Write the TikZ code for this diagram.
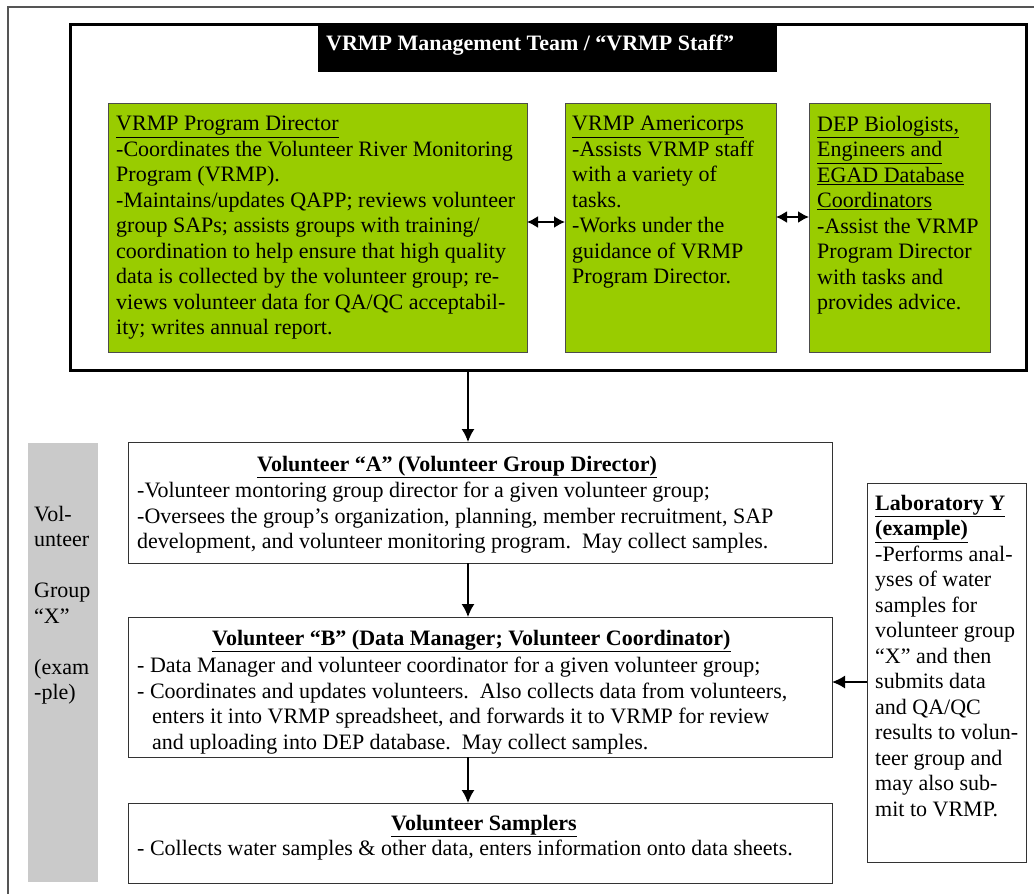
\documentclass[tikz,border=0pt]{standalone}
\usepackage{fontspec}
\setmainfont{Liberation Serif}
\usetikzlibrary{arrows.meta,calc}
\definecolor{vgreen}{HTML}{99CC00}
\definecolor{vgray}{HTML}{CACACA}
\definecolor{frameg}{HTML}{555555}
\begin{document}
\begin{tikzpicture}[x=1pt,y=1pt,
  boxbase/.style={anchor=north west, inner sep=0pt, outer sep=0pt},
  greenbox/.style={boxbase, draw=black!70, line width=0.9pt, fill=vgreen},
  whitebox/.style={boxbase, draw=black!80, line width=0.9pt, fill=white},
  graybox/.style={boxbase, fill=vgray},
  txt/.style={inner sep=0pt, align=left, anchor=north west, font=\fontsize{22}{25.5}\selectfont},
  ttl/.style={inner sep=0pt, anchor=base west, font=\fontsize{22}{25.5}\selectfont\bfseries},
  arr/.style={-{Latex[length=13pt,width=13pt]}, line width=1.5pt},
  darr/.style={{Latex[length=11pt,width=12pt]}-{Latex[length=11pt,width=12pt]}, line width=1.8pt}]
\useasboundingbox (0,0) rectangle (1034,-894);
% outer frame
\draw[frameg, line width=1.4pt] (8,-894) -- (8,-7) -- (1034,-7);
% management team
\node[boxbase, draw=black, line width=3pt, minimum width=956pt, minimum height=346pt] (mgmt) at (70,-24) {};
\node[boxbase, fill=black, minimum width=459pt, minimum height=48pt] (mtitle) at (318,-24) {};
\node[ttl, text=white] (mtitletxt) at (326,-50) {VRMP Management Team / “VRMP Staff”};
% green boxes
\node[greenbox, minimum width=419pt, minimum height=249pt] (pd) at (108,-103) {};
\node[greenbox, minimum width=211pt, minimum height=249pt] (am) at (565,-103) {};
\node[greenbox, minimum width=181pt, minimum height=249pt] (dep) at (809,-103) {};
\node[txt] (pdtxt) at (116,-116) {\underline{VRMP Program Director}\\
-Coordinates the Volunteer River Monitoring\\
Program (VRMP).\\
-Maintains/updates QAPP; reviews volunteer\\
group SAPs; assists groups with training/\\
coordination to help ensure that high quality\\
data is collected by the volunteer group; re-\\
views volunteer data for QA/QC acceptabil-\\
ity; writes annual report.};
\node[txt] (amtxt) at (572,-116) {\underline{VRMP Americorps}\\
-Assists VRMP staff\\
with a variety of\\
tasks.\\
-Works under the\\
guidance of VRMP\\
Program Director.};
\node[txt] (deptxt) at (817,-116) {\underline{DEP Biologists,}\\
\underline{Engineers and}\\
\underline{EGAD Database}\\
\underline{Coordinators}\\
-Assist the VRMP\\
Program Director\\
with tasks and\\
provides advice.};
\coordinate (da1) at (0,-222);
\coordinate (da2) at (0,-217);
\draw[darr] (pd.east |- da1) -- (am.west |- da1);
\draw[darr] (am.east |- da2) -- (dep.west |- da2);
% volunteer group side bar
\node[graybox, minimum width=70pt, minimum height=439pt] (grp) at (28,-443) {};
\node[txt] (grptxt) at (34,-506) {Vol-\\unteer\\[25.5pt]Group\\“X”\\[25.5pt](exam\\-ple)};
% volunteer boxes
\node[whitebox, minimum width=704pt, minimum height=121pt] (volA) at (128,-442) {};
\node[whitebox, minimum width=704pt, minimum height=140pt] (volB) at (128,-617) {};
\node[whitebox, minimum width=704pt, minimum height=80pt] (samp) at (128,-803) {};
\node[ttl] (volAttl) at (257,-471) {\underline{Volunteer “A” (Volunteer Group Director)}};
\node[txt] (volAtxt) at (137,-482) {-Volunteer montoring group director for a given volunteer group;\\
-Oversees the group’s organization, planning, member recruitment, SAP\\
development, and volunteer monitoring program.\ \ May collect samples.};
\node[ttl] (volBttl) at (212,-645) {\underline{Volunteer “B” (Data Manager; Volunteer Coordinator)}};
\node[txt] (volBtxt) at (137,-657) {- Data Manager and volunteer coordinator for a given volunteer group;\\
- Coordinates and updates volunteers.\ \ Also collects data from volunteers,\\
\hspace*{15pt}enters it into VRMP spreadsheet, and forwards it to VRMP for review\\
\hspace*{15pt}and uploading into DEP database.\ \ May collect samples.};
\node[ttl] (sampttl) at (391,-830) {\underline{Volunteer Samplers}};
\node[txt, anchor=base west] (samptxt) at (137,-855) {- Collects water samples \& other data, enters information onto data sheets.};
% laboratory
\node[whitebox, minimum width=159pt, minimum height=379pt] (lab) at (867,-483) {};
\node[txt] (labtxt) at (875,-495) {\textbf{\underline{Laboratory Y}}\\
\textbf{\underline{(example)}}\\
-Performs anal-\\
yses of water\\
samples for\\
volunteer group\\
“X” and then\\
submits data\\
and QA/QC\\
results to volun-\\
teer group and\\
may also sub-\\
mit to VRMP.};
% connectors
\coordinate (ax) at (468,0);
\coordinate (la) at (0,-682);
\draw[arr] (mgmt.south -| ax) -- (volA.north -| ax);
\draw[arr] (volA.south -| ax) -- (volB.north -| ax);
\draw[arr] (volB.south -| ax) -- (samp.north -| ax);
\draw[arr] (lab.west |- la) -- (volB.east |- la);
\end{tikzpicture}
\end{document}
